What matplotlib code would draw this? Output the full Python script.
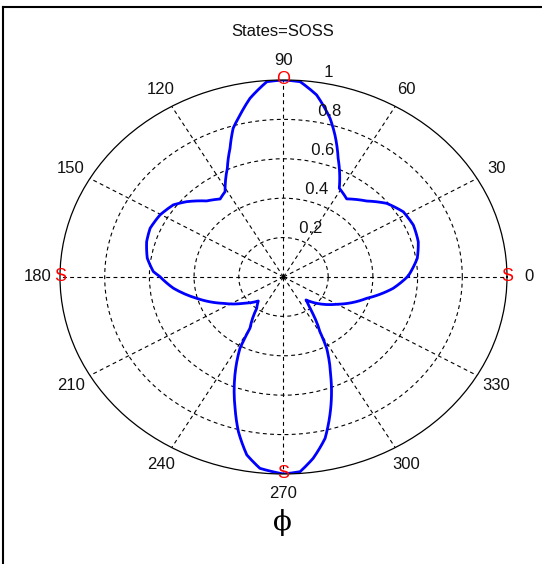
import matplotlib.pyplot as plt
import numpy as np
from matplotlib.lines import Line2D

# Pattern (angle in degrees, normalised radius)
theta_deg = [0.5, 9.0, 16.5, 24.4, 31.7, 39.0, 46.0, 54.5, 61.0, 67.9,
             72.3, 75.5, 80.9, 85.7, 90.0, 94.3, 99.4, 103.3, 106.6, 110.1,
             114.5, 121.1, 125.6, 131.7, 138.6, 143.4, 150.3, 157.5, 163.7, 171.1,
             177.3, 179.8, 186.6, 195.6, 206.4, 216.6, 227.2, 233.0, 240.0, 241.7,
             246.4, 252.0, 255.6, 259.7, 263.8, 270.0, 274.3, 278.2, 282.8, 286.5,
             293.0, 298.1, 300.4, 306.7, 310.8, 318.0, 329.8, 343.8, 353.3, 360.5]
radius = [0.558, 0.606, 0.629, 0.638, 0.630, 0.594, 0.536, 0.487, 0.515, 0.650,
          0.757, 0.832, 0.936, 0.994, 1.000, 0.994, 0.919, 0.845, 0.788, 0.696,
          0.606, 0.506, 0.487, 0.517, 0.578, 0.614, 0.636, 0.646, 0.638, 0.617,
          0.583, 0.553, 0.496, 0.403, 0.301, 0.224, 0.166, 0.199, 0.300, 0.411,
          0.543, 0.701, 0.811, 0.918, 0.977, 1.000, 0.991, 0.930, 0.840, 0.731,
          0.540, 0.410, 0.322, 0.198, 0.154, 0.200, 0.275, 0.388, 0.494, 0.558]

# states at 0, 90, 180, 270 degrees
state_angles = [0, 90, 180, 270]
state_letters = ['S', 'O', 'S', 'S']

angle_ticks = list(range(0, 360, 30))
r_ticks = [0.2, 0.4, 0.6, 0.8, 1.0]
r_tick_labels = ['0.2', '0.4', '0.6', '0.8', '1']

plt.rcParams['font.family'] = ['Liberation Sans', 'DejaVu Sans']
txt_col = '#111111'

fig = plt.figure(figsize=(5.42, 5.64), dpi=100)
ax = fig.add_axes([0.1107, 0.1596, 0.8247, 0.6986], projection='polar')
ax.set_aspect('auto')
ax.set_ylim(0, 1)

ax.set_rgrids(r_ticks[:-1], labels=[])
ax.set_thetagrids(angle_ticks, labels=[])
ax.grid(True, color='k', linestyle=(0, (3.5, 3)), linewidth=0.8)
ax.spines['polar'].set_color('k')
ax.spines['polar'].set_linewidth(0.9)
ax.tick_params(length=0)

line, = ax.plot(np.deg2rad(theta_deg), radius, color='blue', linewidth=2.0)
# draw each segment as a polar arc rather than a straight chord
line.get_path()._interpolation_steps = 8

# angle labels (MATLAB style, at 1.1 * rmax)
for a in angle_ticks:
    ax.text(np.deg2rad(a), 1.1, str(a), ha='center', va='center',
            fontsize=12, color=txt_col, clip_on=False)

# radius labels along 82 degrees
for rv, lab in zip(r_ticks, r_tick_labels):
    ax.text(np.deg2rad(82), rv + 0.01, '  ' + lab, ha='left', va='bottom',
            fontsize=12, color=txt_col, clip_on=False)

for a, s in zip(state_angles, state_letters):
    ax.text(np.deg2rad(a), 1.0, s, ha='center', va='center',
            fontsize=13, color='red', clip_on=False)

fig.text(0.521, 1 - 32 / 564, 'States=SOSS', ha='center', va='center',
         fontsize=12, color=txt_col)
fig.text(0.521, 1 - 522 / 564, '\u03d5', ha='center', va='center',
         fontsize=20, family='DejaVu Serif', color='k')

# frame lines of the screenshot (top and left)
fig.add_artist(Line2D([3 / 542, 3 / 542], [0, 1 - 7 / 564], color='k', linewidth=1.5))
fig.add_artist(Line2D([3 / 542, 1], [1 - 7 / 564, 1 - 7 / 564], color='k', linewidth=1.5))

fig.savefig('out.png', dpi=100)
